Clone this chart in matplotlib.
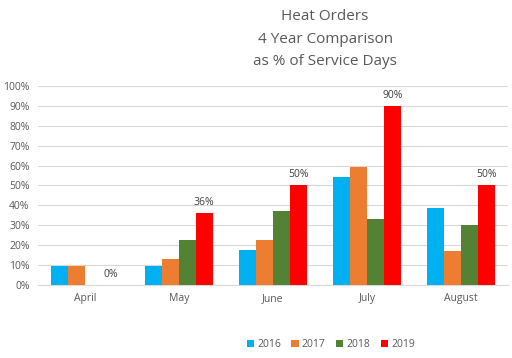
import numpy as np
import matplotlib
matplotlib.use('Agg')
import matplotlib.pyplot as plt
from matplotlib.ticker import PercentFormatter

months = ['April', 'May', 'June', 'July', 'August']
years = ['2016', '2017', '2018', '2019']
v2016 = [9.3, 9.4, 17.6, 54.4, 38.5]
v2017 = [9.6, 13.1, 22.6, 59.5, 17.2]
v2018 = [0, 22.6, 37.4, 33.1, 30.2]
v2019 = [0, 36, 50, 90, 50]
colors = ['#00B0F0', '#ED7D31', '#548235', '#FF0000']

grey = '#595959'
plt.rcParams['font.family'] = ['Open Sans', 'DejaVu Sans']

fig = plt.figure(figsize=(5.12, 3.58), dpi=100)
ax = fig.add_axes([0.074, 0.204, 0.918, 0.556])

x = np.arange(len(months))
w = 0.18
series = [v2016, v2017, v2018, v2019]
for i, (vals, c, yr) in enumerate(zip(series, colors, years)):
    bars = ax.bar(x + (i - 1.5) * w, vals, w, color=c, label=yr, zorder=3)
    if yr == '2019':
        for b, v in zip(bars, vals):
            ax.text(b.get_x() + b.get_width() / 2, v + 2.5, '%d%%' % v,
                    ha='center', va='bottom', fontsize=7.5, color='#404040')

ax.set_xlim(-0.5, len(months) - 0.5)
ax.set_ylim(0, 100)
ax.set_yticks(np.arange(0, 101, 10))
ax.yaxis.set_major_formatter(PercentFormatter(decimals=0))
ax.set_xticks(x)
ax.set_xticklabels(months)
ax.tick_params(axis='both', length=0, labelsize=7.5, colors=grey)
ax.tick_params(axis='x', pad=6)
ax.tick_params(axis='y', pad=6)
ax.grid(axis='y', color='#D9D9D9', linewidth=0.8, zorder=0)
for s in ['top', 'right', 'left']:
    ax.spines[s].set_visible(False)
ax.spines['bottom'].set_color('#D9D9D9')

fig.text(0.635, 0.975, 'Heat Orders\n4 Year Comparison\nas % of Service Days',
         ha='center', va='top', fontsize=11, color=grey, linespacing=1.7)

ax.legend(loc='center', bbox_to_anchor=(0.623, -0.3), ncol=4, frameon=False,
          fontsize=7.5, labelcolor=grey, handlelength=0.7, handleheight=0.7,
          handletextpad=0.3, columnspacing=1.0)

fig.savefig('out.png', dpi=100)
